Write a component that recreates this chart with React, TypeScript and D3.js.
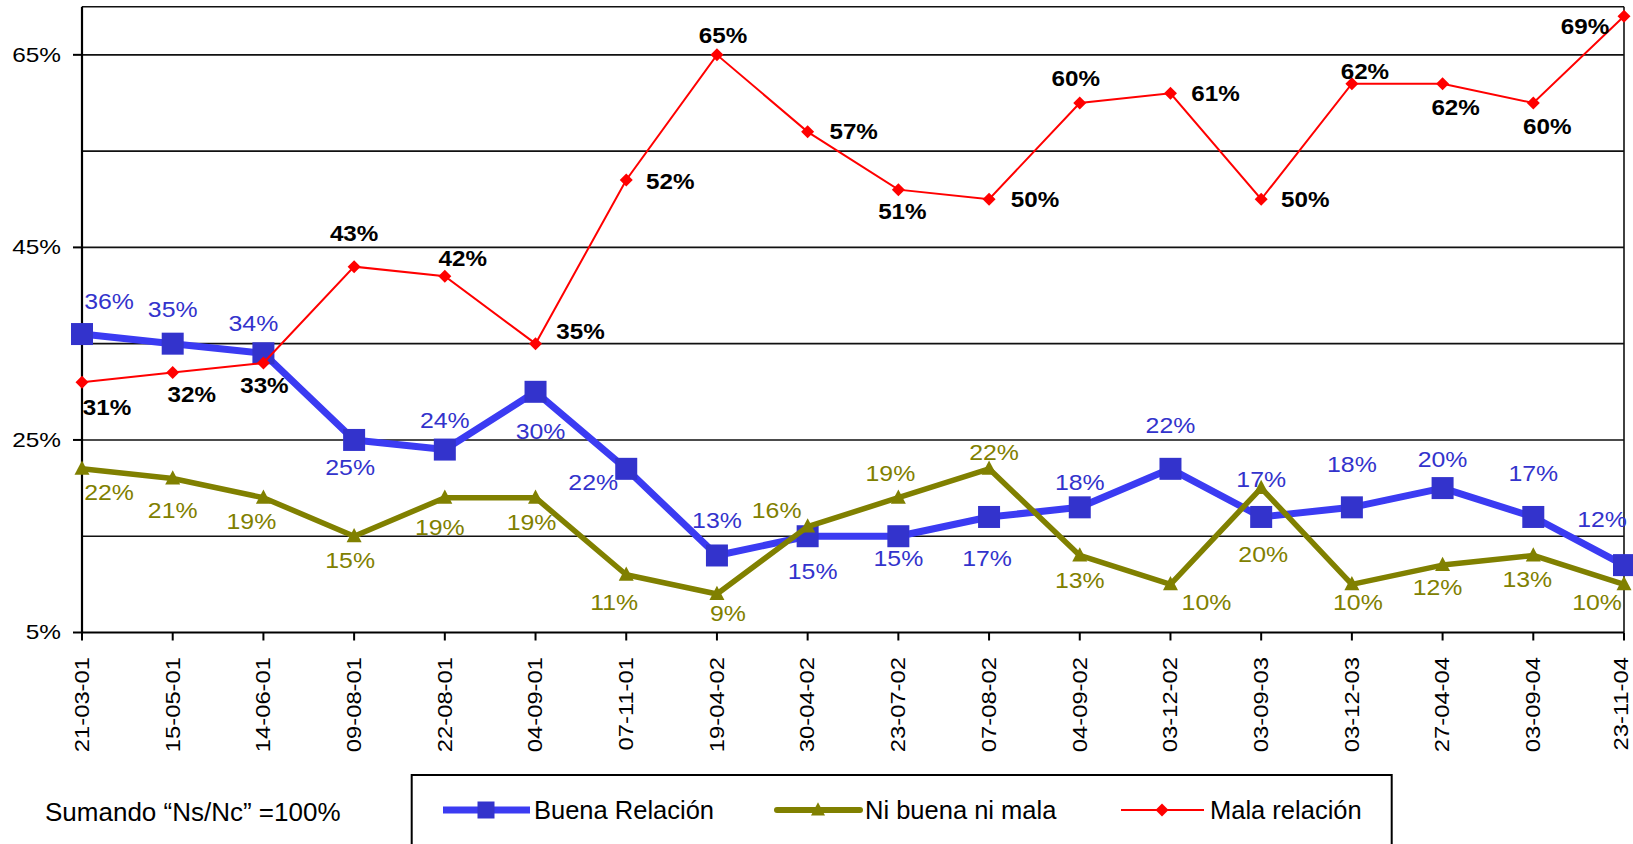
import React from 'react';
import * as d3 from 'd3';

const dates = ['21-03-01','15-05-01','14-06-01','09-08-01','22-08-01','04-09-01','07-11-01','19-04-02','30-04-02','23-07-02','07-08-02','04-09-02','03-12-02','03-09-03','03-12-03','27-04-04','03-09-04','23-11-04'];
const buena = [36,35,34,25,24,30,22,13,15,15,17,18,22,17,18,20,17,12];
const niBuena = [22,21,19,15,19,19,11,9,16,19,22,13,10,20,10,12,13,10];
const mala = [31,32,33,43,42,35,52,65,57,51,50,60,61,50,62,62,60,69];
const yTickLabels = [5,25,45,65];
const gridValues = [15,25,35,45,55,65];
const seriesNames = ['Buena Relación','Ni buena ni mala','Mala relación'];
const footnote = 'Sumando \u201cNs/Nc\u201d =100%';

// label placement (dx, dy from point, px)
const buenaLabelPos = [[27,-33],[0,-34],[-10,-30],[-4,28],[0,-29],[5,40],[-33,14],[0,-35],[5,35],[0,22],[-2,42],[0,-25],[0,-43],[0,-37],[0,-43],[0,-29],[0,-43],[-22,-46]];
const niLabelPos = [[27,24],[0,32],[-12,24],[-4,24],[-5,30],[-4,25],[-12,28],[11,20],[-31,-16],[-8,-24],[5,-16],[0,25],[36,18],[2,66],[6,18],[-5,22],[-6,24],[-27,18]];
const malaLabelPos = [[25,25],[19,22],[1,22],[0,-33],[18,-18],[45,-12],[44,1],[6,-19],[46,0],[4,22],[46,0],[-4,-25],[45,0],[44,0],[13,-12],[13,24],[14,23],[-39,10]];

const FONT = '"Liberation Sans", Arial, Helvetica, sans-serif';
const BLUE_T = '#3333CC';
const BLUE_L = '#3b3bf2';
const OLIVE = '#808000';
const RED = '#FF0000';

export default function App() {
  const W = 1633, H = 844;
  const left = 82, right = 1624, top = 6.7, bottom = 632.5;
  const x = d3.scalePoint<string>().domain(dates).range([left, right]);
  const y = d3.scaleLinear().domain([5, 70]).range([bottom, top]);
  const line = d3.line<number>().x((_, i) => x(dates[i]) as number).y(d => y(d));

  const sx = 1.13;
  const stretched = (key: string, px: number, py: number, txt: string, fill: string, weight: string, size: number, s: number, anchor = 'middle') => (
    <g key={key} transform={`translate(${px},${py}) scale(${s},1)`}>
      <text textAnchor={anchor} dominantBaseline="central" fill={fill} fontWeight={weight} fontSize={size} fontFamily={FONT}>{txt}</text>
    </g>
  );

  const square = (cx: number, cy: number, s: number) => `M${cx - s / 2},${cy - s / 2}h${s}v${s}h${-s}Z`;
  const tri = (cx: number, cy: number, s: number) => `M${cx},${cy - s * 0.55}L${cx + s / 2},${cy + s * 0.4}L${cx - s / 2},${cy + s * 0.4}Z`;
  const diamond = (cx: number, cy: number, s: number) => `M${cx},${cy - s / 2}L${cx + s / 2},${cy}L${cx},${cy + s / 2}L${cx - s / 2},${cy}Z`;

  return (
    <svg width={W} height={H} style={{ position: 'absolute', left: 0, top: 0, background: '#fff' }}>
      {/* gridlines */}
      {gridValues.map(v => (
        <line key={'g' + v} x1={left} x2={right} y1={y(v)} y2={y(v)} stroke="#111" strokeWidth={1.6} />
      ))}
      <line x1={left} x2={right} y1={top} y2={top} stroke="#111" strokeWidth={1.6} />
      <line x1={right} x2={right} y1={top} y2={bottom} stroke="#111" strokeWidth={1.6} />
      {/* axes */}
      <line x1={left} x2={left} y1={top} y2={bottom} stroke="#000" strokeWidth={2.2} />
      <line x1={left} x2={right} y1={bottom} y2={bottom} stroke="#000" strokeWidth={2.2} />
      {yTickLabels.map(v => (
        <g key={'yt' + v}>
          <line x1={left - 9} x2={left} y1={y(v)} y2={y(v)} stroke="#000" strokeWidth={2} />
          {stretched('yl' + v, 61, y(v), `${v}%`, '#000', 'normal', 20, 1.22, 'end')}
        </g>
      ))}
      {dates.map(d => (
        <g key={'xt' + d}>
          <line x1={x(d)} x2={x(d)} y1={bottom} y2={bottom + 8} stroke="#000" strokeWidth={2} />
          <g transform={`translate(${Math.min(x(d) as number, W - 12)},657) rotate(-90) scale(1.19,1)`}>
            <text textAnchor="end" dominantBaseline="central" fontSize={20} fontFamily={FONT} fill="#000">{d}</text>
          </g>
        </g>
      ))}

      {/* Buena */}
      <path d={line(buena) as string} fill="none" stroke={BLUE_L} strokeWidth={7} strokeLinejoin="round" />
      {buena.map((v, i) => (
        <path key={'bm' + i} d={square(x(dates[i]) as number, y(v), 22)} fill={BLUE_T} />
      ))}
      {/* Ni buena */}
      <path d={line(niBuena) as string} fill="none" stroke={OLIVE} strokeWidth={5.5} strokeLinejoin="round" />
      {niBuena.map((v, i) => (
        <path key={'nm' + i} d={tri(x(dates[i]) as number, y(v), 15)} fill={OLIVE} />
      ))}
      {/* Mala */}
      <path d={line(mala) as string} fill="none" stroke={RED} strokeWidth={2} />
      {mala.map((v, i) => (
        <path key={'mm' + i} d={diamond(x(dates[i]) as number, y(v), 13)} fill={RED} />
      ))}

      {/* labels */}
      {buena.map((v, i) => stretched('bl' + i, (x(dates[i]) as number) + buenaLabelPos[i][0], y(v) + buenaLabelPos[i][1], `${v}%`, BLUE_T, 'normal', 22, sx))}
      {niBuena.map((v, i) => stretched('nl' + i, (x(dates[i]) as number) + niLabelPos[i][0], y(v) + niLabelPos[i][1], `${v}%`, OLIVE, 'normal', 22, sx))}
      {mala.map((v, i) => stretched('ml' + i, (x(dates[i]) as number) + malaLabelPos[i][0], y(v) + malaLabelPos[i][1], `${v}%`, '#000', 'bold', 22, 1.1))}

      {/* footnote */}
      <text x={45} y={812} dominantBaseline="central" fontSize={26} fontFamily={FONT} fill="#000">{footnote}</text>

      {/* legend */}
      <rect x={411.7} y={775} width={980} height={120} fill="#fff" stroke="#000" strokeWidth={2} />
      <line x1={443} x2={530} y1={810} y2={810} stroke={BLUE_L} strokeWidth={7} />
      <path d={square(486, 810, 17)} fill={BLUE_T} />
      <text x={534} y={810} dominantBaseline="central" fontSize={25.5} fontFamily={FONT} fill="#000">{seriesNames[0]}</text>
      <line x1={777} x2={860} y1={810} y2={810} stroke={OLIVE} strokeWidth={6} strokeLinecap="round" />
      <path d={tri(818, 810, 14)} fill={OLIVE} />
      <text x={865} y={810} dominantBaseline="central" fontSize={25.5} fontFamily={FONT} fill="#000">{seriesNames[1]}</text>
      <line x1={1121} x2={1204} y1={810} y2={810} stroke={RED} strokeWidth={2} />
      <path d={diamond(1162, 810, 13)} fill={RED} />
      <text x={1210} y={810} dominantBaseline="central" fontSize={25.5} fontFamily={FONT} fill="#000">{seriesNames[2]}</text>
    </svg>
  );
}
